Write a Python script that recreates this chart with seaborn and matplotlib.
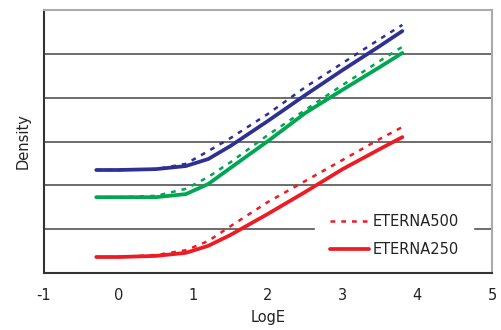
import matplotlib
matplotlib.use("Agg")
import matplotlib.pyplot as plt
import seaborn as sns
import pandas as pd

log_e = [-0.3, 0.0, 0.5, 0.9, 1.2, 1.5, 2.0, 2.5, 3.0, 3.5, 3.8]

blue_250 = [2.35, 2.35, 2.37, 2.44, 2.60, 2.90, 3.47, 4.06, 4.63, 5.18, 5.52]
blue_500 = [2.35, 2.35, 2.37, 2.49, 2.78, 3.08, 3.63, 4.24, 4.79, 5.34, 5.66]
green_250 = [1.73, 1.73, 1.73, 1.80, 2.03, 2.40, 3.01, 3.65, 4.18, 4.70, 5.02]
green_500 = [1.73, 1.73, 1.76, 1.92, 2.19, 2.53, 3.15, 3.72, 4.29, 4.84, 5.16]
red_250 = [0.365, 0.365, 0.39, 0.46, 0.62, 0.87, 1.35, 1.85, 2.37, 2.83, 3.10]
red_500 = [0.365, 0.365, 0.41, 0.52, 0.73, 1.07, 1.62, 2.10, 2.58, 3.06, 3.33]

x_ticks = [-1, 0, 1, 2, 3, 4, 5]
y_grid = [1, 2, 3, 4, 5]

sns.set_style("white")
plt.rcParams['font.family'] = ['DejaVu Sans']

fig = plt.figure(figsize=(5.02, 3.30), dpi=100)
ax = fig.add_axes([0.0876, 0.1727, 0.8924, 0.797])

BLUE = "#2E3192"
GREEN = "#00A651"
RED = "#ED1C24"

series = [
    (blue_500, BLUE, "dash"),
    (blue_250, BLUE, "solid"),
    (green_500, GREEN, "dash"),
    (green_250, GREEN, "solid"),
    (red_500, RED, "dash"),
    (red_250, RED, "solid"),
]

for vals, col, sty in series:
    df = pd.DataFrame({"LogE": log_e, "Density": vals})
    if sty == "solid":
        sns.lineplot(data=df, x="LogE", y="Density", ax=ax, color=col,
                     linewidth=2.7, legend=False, solid_capstyle="round", zorder=3)
    else:
        sns.lineplot(data=df, x="LogE", y="Density", ax=ax, color=col,
                     linewidth=1.8, legend=False, dashes=False, zorder=3)
        ax.lines[-1].set_dashes((1.9, 2.4))

lines = ax.get_lines()
red_dash_line = lines[4]
red_solid_line = lines[5]

ax.set_xlim(-1, 5)
ax.set_ylim(0, 6)
ax.set_xticks(x_ticks)
ax.set_xticklabels([str(t) for t in x_ticks])
ax.set_yticks(y_grid)
ax.set_yticklabels([])
for g in y_grid:
    ax.axhline(g, color="#444444", linewidth=1.1, zorder=1)

ax.tick_params(axis="x", direction="in", length=5, width=1, color="#333333",
               labelsize=10.5, pad=11, labelcolor="#222222")
ax.tick_params(axis="y", direction="in", length=5, width=1, color="#333333")

for side in ["left", "bottom"]:
    ax.spines[side].set_color("#333333")
    ax.spines[side].set_linewidth(1.5)
for side in ["top", "right"]:
    ax.spines[side].set_color("#aaaaaa")
    ax.spines[side].set_linewidth(1.5)
    ax.spines[side].set_visible(True)

ax.set_xlabel("LogE", fontsize=10.5, color="#222222", labelpad=5)
ax.set_ylabel("Density", fontsize=10.5, color="#222222", labelpad=6)

leg = ax.legend(handles=[red_dash_line, red_solid_line],
                labels=["ETERNA500", "ETERNA250"],
                loc="lower right", bbox_to_anchor=(0.958, 0.006),
                frameon=True, fancybox=False, framealpha=1.0,
                edgecolor="white", facecolor="white",
                fontsize=10.5, handlelength=2.7, handletextpad=0.2,
                labelspacing=0.85, borderpad=1.0, borderaxespad=0.0)
for t in leg.get_texts():
    t.set_color("#222222")
leg.set_zorder(2)

fig.savefig("out.png", dpi=100)
